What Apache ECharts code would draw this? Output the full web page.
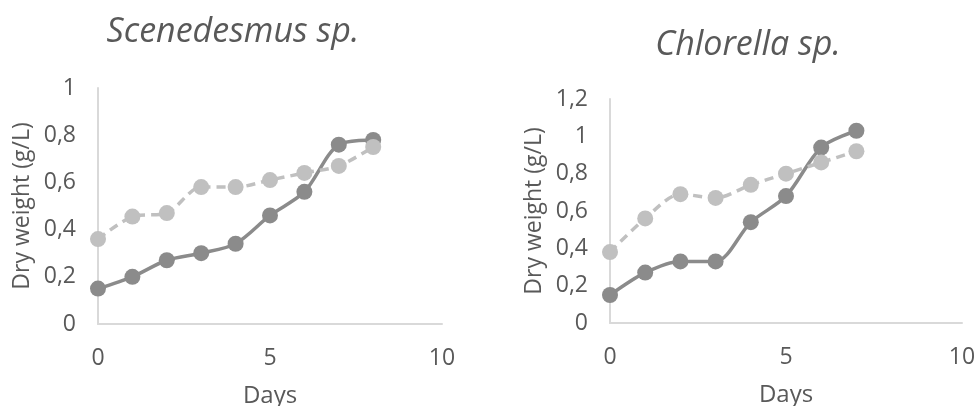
<!DOCTYPE html>
<html>
<head>
<meta charset="utf-8">
<script src="https://cdn.jsdelivr.net/npm/echarts@6/dist/echarts.min.js"></script>
<style>
html,body{margin:0;padding:0;background:#fff;}
#c{width:976px;height:406px;}
</style>
</head>
<body>
<div id="c"></div>
<script>
// ---- data ----
var titles = ['Scenedesmus sp.', 'Chlorella sp.'];
var xAxisName = 'Days';
var yAxisName = 'Dry weight (g/L)';
var scenDays = [0, 1, 2, 3, 4, 5, 6, 7, 8];
var scenSolid = [0.15, 0.20, 0.27, 0.30, 0.34, 0.46, 0.56, 0.76, 0.78];
var scenDashed = [0.36, 0.455, 0.47, 0.58, 0.58, 0.61, 0.64, 0.67, 0.75];
var chlDays = [0, 1, 2, 3, 4, 5, 6, 7];
var chlSolid = [0.15, 0.27, 0.33, 0.33, 0.54, 0.68, 0.94, 1.03];
var chlDashed = [0.38, 0.56, 0.69, 0.67, 0.74, 0.80, 0.86, 0.92];
var xTicks = [0, 5, 10];
var yMaxLeft = 1, yMaxRight = 1.2, yStep = 0.2;

// ---- chart ----
var FONT = '"Open Sans", sans-serif';
var TXT = '#595959';
var DARK = '#8b8b8b';
var LIGHT = '#c0c0c0';

function pairs(xs, ys) { return xs.map(function (x, i) { return [x, ys[i]]; }); }

function xAxis(gi) {
  return {
    type: 'value', gridIndex: gi, min: xTicks[0], max: xTicks[xTicks.length - 1], interval: xTicks[1] - xTicks[0],
    name: xAxisName, nameLocation: 'middle', nameGap: 60,
    nameTextStyle: { color: TXT, fontFamily: FONT, fontSize: 24 },
    axisLine: { show: true, onZero: false, lineStyle: { color: '#d9d9d9', width: 2 } },
    axisTick: { show: false }, splitLine: { show: false },
    axisLabel: { color: TXT, fontFamily: FONT, fontSize: 23, margin: 23 }
  };
}
function yAxis(gi, max) {
  return {
    type: 'value', gridIndex: gi, min: 0, max: max, interval: yStep,
    name: yAxisName, nameLocation: 'middle', nameGap: 64,
    nameTextStyle: { color: TXT, fontFamily: FONT, fontSize: 23 },
    axisLine: { show: true, lineStyle: { color: '#d9d9d9', width: 2 } },
    axisTick: { show: false }, splitLine: { show: false },
    axisLabel: { color: TXT, fontFamily: FONT, fontSize: 23, margin: 22,
      formatter: function (v) { return String(Math.round(v * 10) / 10).replace('.', ','); } }
  };
}
function solid(gi, data) {
  return { type: 'line', xAxisIndex: gi, yAxisIndex: gi, data: data, smooth: 0.3,
    symbol: 'circle', symbolSize: 16, lineStyle: { color: DARK, width: 3.5 },
    itemStyle: { color: DARK }, z: 2 };
}
function dashed(gi, data) {
  return { type: 'line', xAxisIndex: gi, yAxisIndex: gi, data: data, smooth: 0.3,
    symbol: 'circle', symbolSize: 16, lineStyle: { color: LIGHT, width: 3.5, type: [9, 6] },
    itemStyle: { color: LIGHT }, z: 3 };
}

var chart = echarts.init(document.getElementById('c'), null, { renderer: 'canvas' });
chart.setOption({
  animation: false,
  backgroundColor: '#ffffff',
  title: [
    { text: titles[0], left: 228, top: 10, textAlign: 'center',
      textStyle: { color: TXT, fontFamily: FONT, fontSize: 34, fontStyle: 'italic', fontWeight: 'normal' } },
    { text: titles[1], left: 743, top: 23, textAlign: 'center',
      textStyle: { color: TXT, fontFamily: FONT, fontSize: 34, fontStyle: 'italic', fontWeight: 'normal' } }
  ],
  grid: [
    { left: 98, top: 88, width: 344, height: 236, containLabel: false, outerBoundsMode: 'none' },
    { left: 610, top: 99, width: 352, height: 224, containLabel: false, outerBoundsMode: 'none' }
  ],
  xAxis: [xAxis(0), xAxis(1)],
  yAxis: [yAxis(0, yMaxLeft), yAxis(1, yMaxRight)],
  series: [
    solid(0, pairs(scenDays, scenSolid)),
    dashed(0, pairs(scenDays, scenDashed)),
    solid(1, pairs(chlDays, chlSolid)),
    dashed(1, pairs(chlDays, chlDashed))
  ]
});
</script>
</body>
</html>
